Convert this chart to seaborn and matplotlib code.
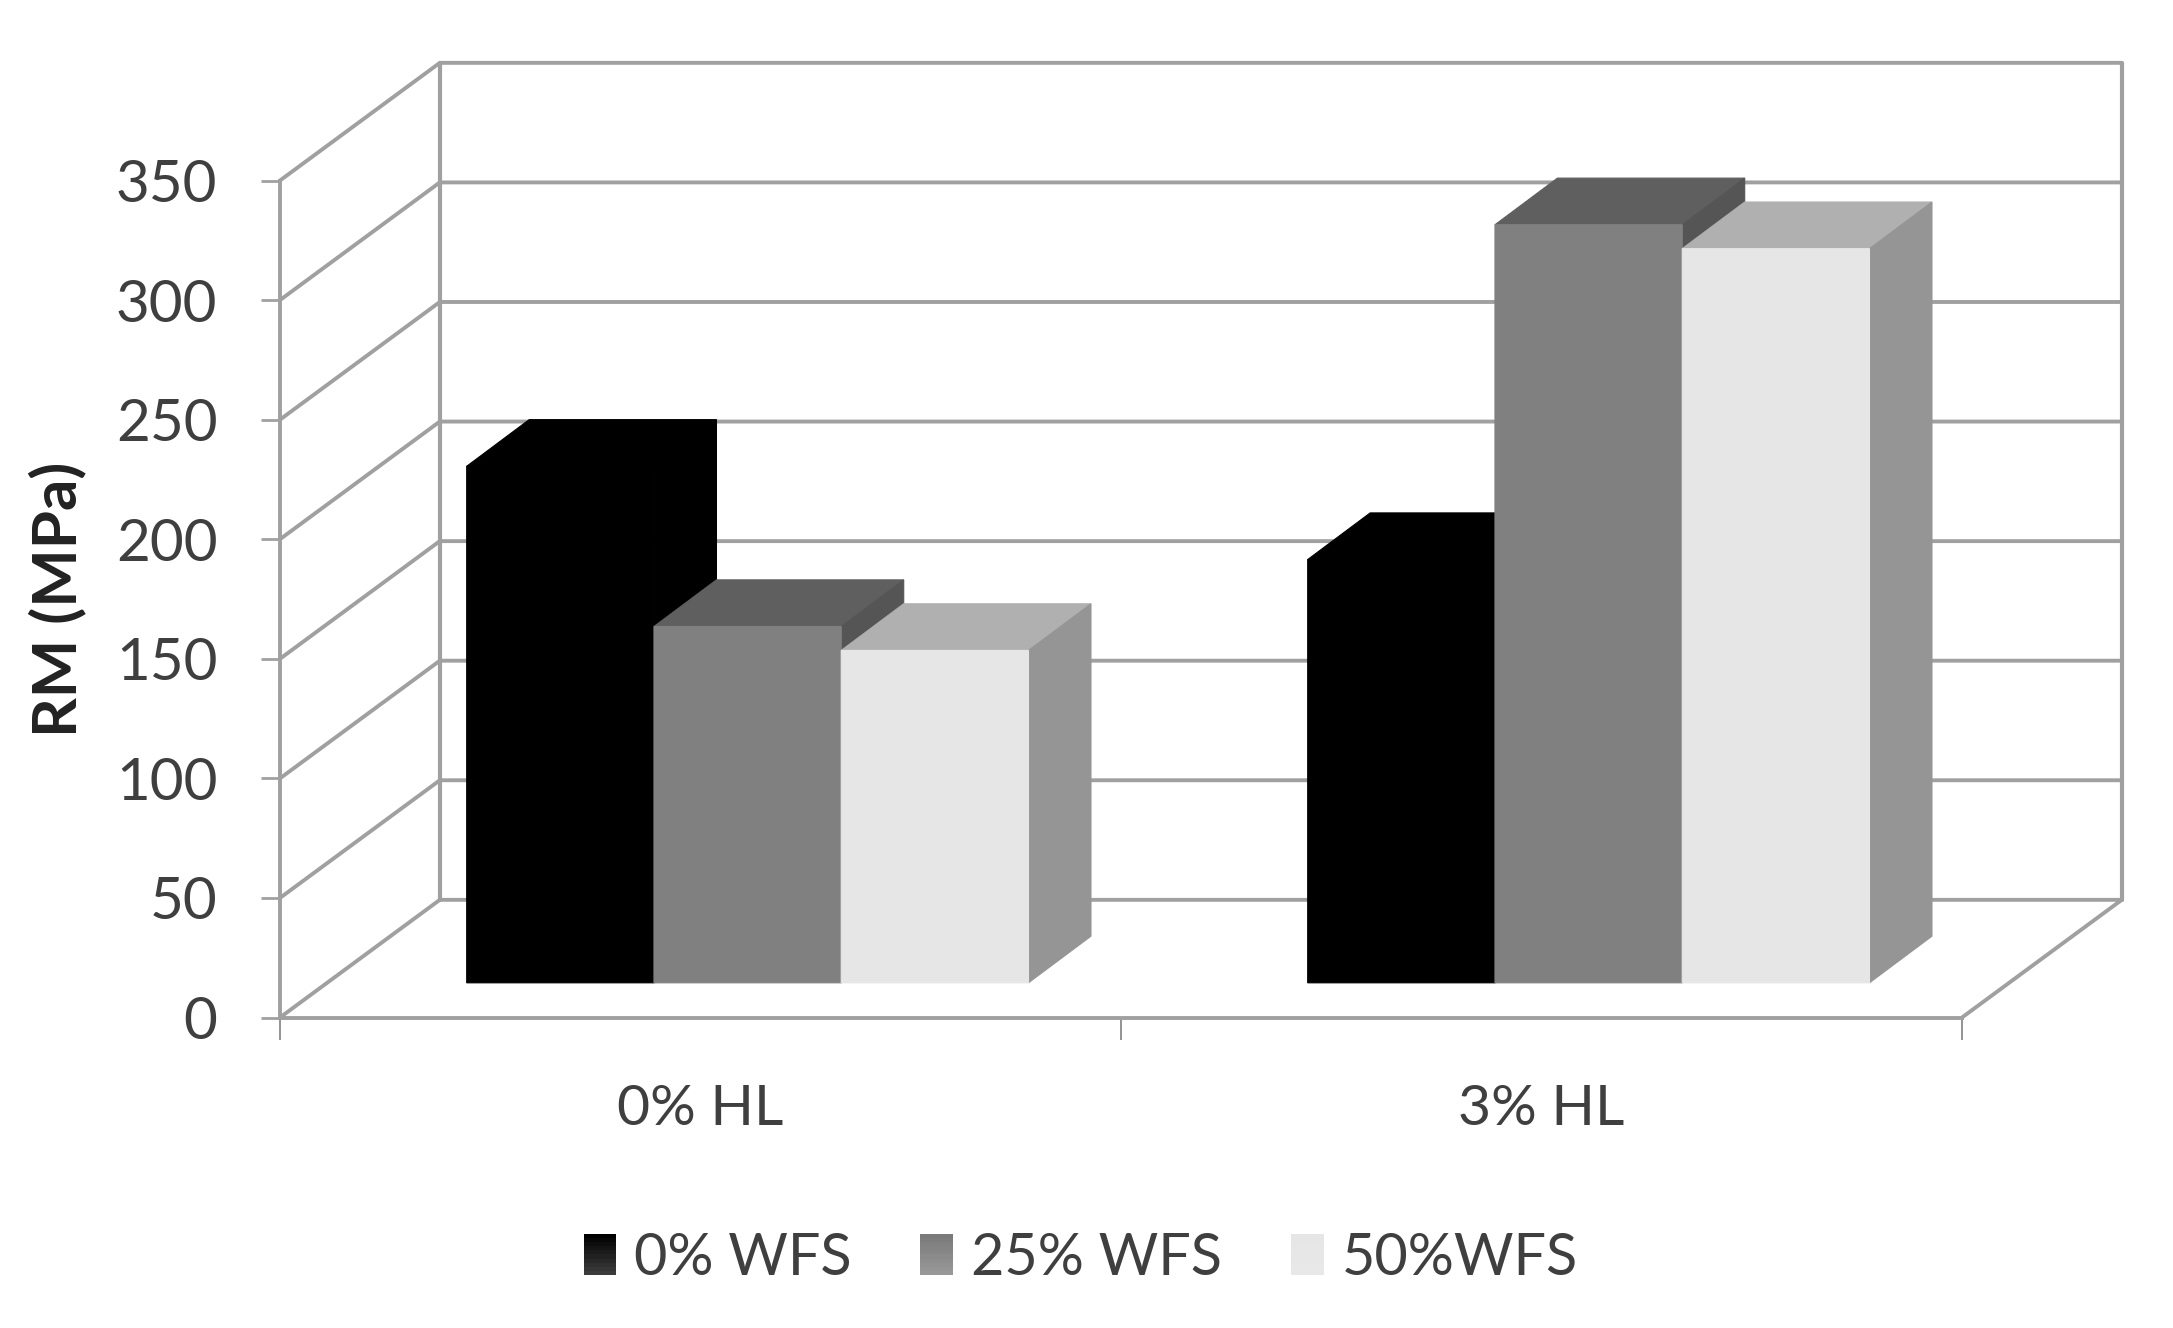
import matplotlib
matplotlib.use("Agg")
import matplotlib.pyplot as plt
import matplotlib.colors as mcolors
from matplotlib.legend_handler import HandlerBase
from matplotlib.patches import Patch, Polygon, Rectangle
import numpy as np
import pandas as pd
import seaborn as sns

# ---- data ----
categories = ["0% HL", "3% HL"]
series_names = ["0% WFS", "25% WFS", "50%WFS"]
wfs_0 = [216, 177]
wfs_25 = [149, 317]
wfs_50 = [139, 307]
y_ticks = [0, 50, 100, 150, 200, 250, 300, 350]

# ---- styles ----
front_colors = ["#000000", "#808080", "#e6e6e6"]
top_colors = ["#000000", "#5f5f5f", "#b0b0b0"]
side_colors = ["#000000", "#555555", "#959595"]
swatch_ends = [("#000000", "#3c3c3c"), ("#7a7a7a", "#989898"), ("#e6e6e6", "#e8e8e8")]
wall_color = "#a0a0a0"
text_color = "#3f3f3f"

# 3-D look: depth expressed in axis units (categories, MPa)
WALL_DX, WALL_DY = 0.190, 49.2   # floor depth
BASE_DX, BASE_DY = 0.056, 14.5   # bar front plane inside the floor
BAR_DX, BAR_DY = 0.0743, 19.5    # bar depth

sns.set_theme(style="white")
plt.rcParams["font.family"] = ["Lato", "DejaVu Sans"]

W, H = 2173, 1328
fig = plt.figure(figsize=(W / 100, H / 100), dpi=100, facecolor="white")
L, R, T, B = 280, 1962, 180.5, 1017.5
ax = fig.add_axes([L / W, 1 - B / H, (R - L) / W, (B - T) / H])

df = pd.DataFrame({
    "HL": categories * 3,
    "WFS": np.repeat(series_names, 2),
    "RM": wfs_0 + wfs_25 + wfs_50,
})
sns.barplot(data=df, x="HL", y="RM", hue="WFS", hue_order=series_names,
            palette=dict(zip(series_names, front_colors)), saturation=1,
            width=0.668, gap=0, legend=False, linewidth=0, ax=ax, zorder=5)
ax.set_xlim(-0.5, 1.5)
ax.set_ylim(0, 350)

# walls and floor
x0, x1 = ax.get_xlim()
top = y_ticks[-1]
for v in y_ticks:
    ax.plot([x0, x0 + WALL_DX, x1 + WALL_DX], [v, v + WALL_DY, v + WALL_DY],
            color=wall_color, lw=2.8, clip_on=False, zorder=1)
ax.plot([x0 + WALL_DX] * 2, [WALL_DY, top + WALL_DY], color=wall_color, lw=3.0, clip_on=False, zorder=1)
ax.plot([x1 + WALL_DX] * 2, [WALL_DY, top + WALL_DY], color=wall_color, lw=3.0, clip_on=False, zorder=1)
ax.plot([x1, x1 + WALL_DX], [0, WALL_DY], color=wall_color, lw=2.8, clip_on=False, zorder=1)

# move bars into the floor and add their side and top faces
bars = [p for p in ax.patches if isinstance(p, Rectangle)]
order = sorted(range(len(bars)), key=lambda i: bars[i].get_x())
for rank, i in enumerate(order):
    bar = bars[i]
    s = i // len(categories)
    bx = bar.get_x() + BASE_DX
    bw = bar.get_width()
    h = bar.get_height()
    bar.set_x(bx)
    bar.set_y(BASE_DY)
    bar.set_clip_on(False)
    bar.set_snap(False)
    bar.set_edgecolor(front_colors[s])
    bar.set_linewidth(0.8)
    bar.set_zorder(4 + rank * 3 + 1)
    ytop = BASE_DY + h
    ax.add_patch(Polygon([(bx, ytop), (bx + BAR_DX, ytop + BAR_DY),
                          (bx + bw + BAR_DX, ytop + BAR_DY), (bx + bw, ytop)],
                         closed=True, fc=top_colors[s], ec=top_colors[s], lw=0.8,
                         snap=False, clip_on=False, zorder=4 + rank * 3))
    ax.add_patch(Polygon([(bx + bw, BASE_DY), (bx + bw + BAR_DX, BASE_DY + BAR_DY),
                          (bx + bw + BAR_DX, ytop + BAR_DY), (bx + bw, ytop)],
                         closed=True, fc=side_colors[s], ec=side_colors[s], lw=0.8,
                         snap=False, clip_on=False, zorder=4 + rank * 3))

# axes
sns.despine(ax=ax, top=True, right=True)
for sp in ("left", "bottom"):
    ax.spines[sp].set_color(wall_color)
    ax.spines[sp].set_linewidth(2.8)
ax.set_yticks(y_ticks)
ax.set_xticks(range(len(categories)))
ax.set_xticklabels(categories)
ax.set_xticks([-0.5, 0.5, 1.5], minor=True)
ax.tick_params(axis="y", which="major", left=True, length=14, width=2.0, color=wall_color,
               pad=31, labelsize=42, labelcolor=text_color)
ax.tick_params(axis="x", which="major", bottom=False, length=0, pad=48,
               labelsize=41, labelcolor=text_color)
ax.tick_params(axis="x", which="minor", bottom=True, length=16, width=1.2, color="#808080")
ax.set_xlabel("")
ax.set_ylabel("RM (MPa)", fontsize=44.5, fontweight="bold", color="#222222")
ax.yaxis.set_label_coords(-0.115, 0.5)


class GradientHandler(HandlerBase):
    """Legend swatch with a faint vertical gradient."""
    def __init__(self, start, end, **kw):
        super().__init__(**kw)
        self.start, self.end = mcolors.to_rgb(start), mcolors.to_rgb(end)

    def create_artists(self, legend, orig, xd, yd, width, height, fontsize, trans):
        artists = []
        steps = 10
        for k in range(steps):
            f = k / (steps - 1)
            col = [a + (b - a) * f for a, b in zip(self.start, self.end)]
            # k = 0 is the top of the swatch
            y = -yd + height * (1 - (k + 1) / steps)
            artists.append(Rectangle((-xd, y), width, height / steps + 0.3,
                                     fc=col, ec="none", transform=trans))
        return artists


handles = [Patch(color=c, label=n) for c, n in zip(front_colors, series_names)]
ax.legend(handles=handles, ncol=3, loc="center", frameon=False,
          bbox_to_anchor=(0.476, -0.288), fontsize=41.5, labelcolor=text_color,
          handlelength=0.57, handleheight=0.71, handletextpad=0.31, columnspacing=1.19,
          handler_map={h: GradientHandler(*e) for h, e in zip(handles, swatch_ends)})

fig.savefig("out.png", dpi=100, facecolor="white")
